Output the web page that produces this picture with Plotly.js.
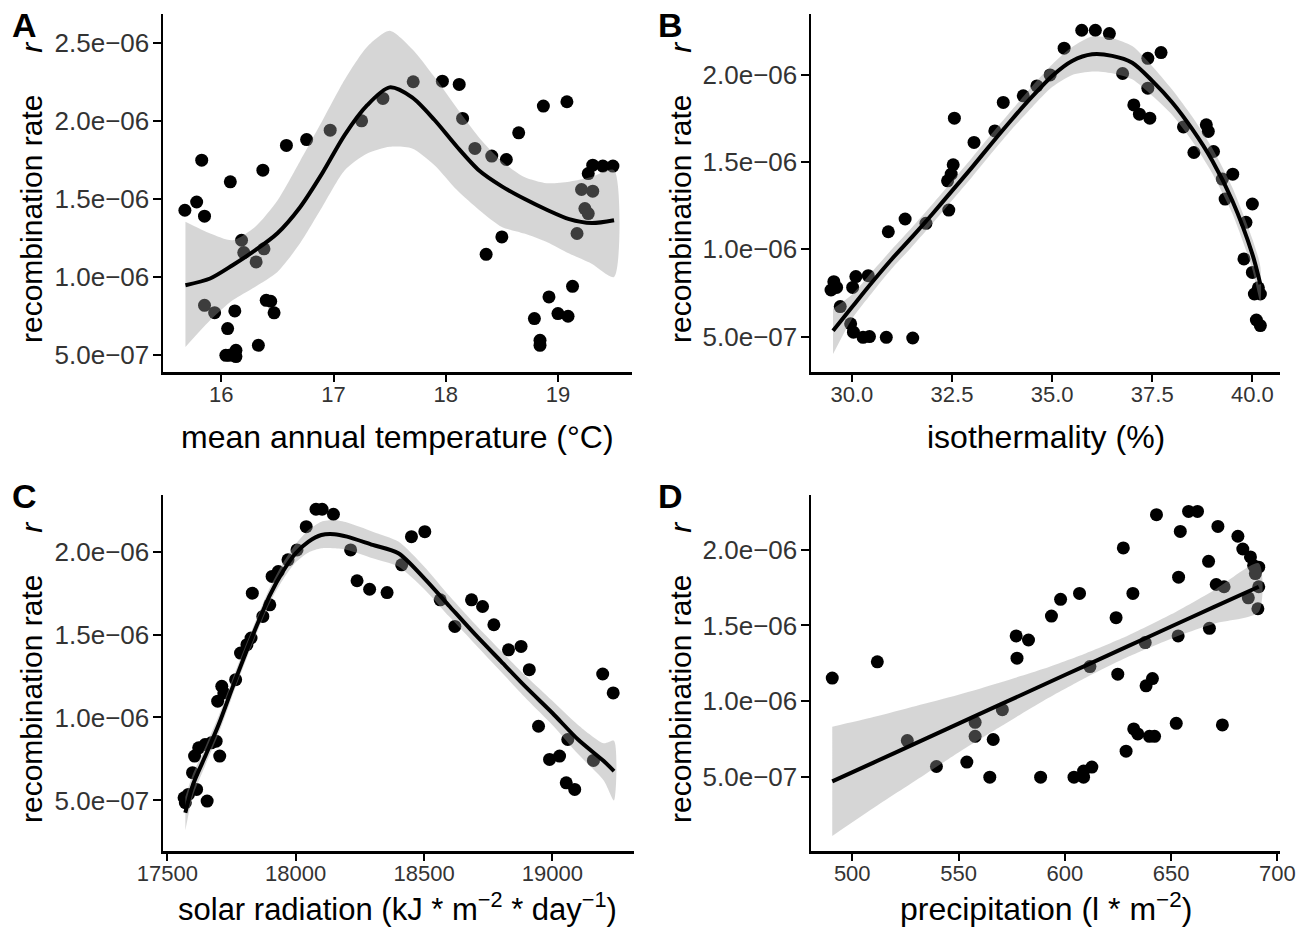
<!DOCTYPE html>
<html><head><meta charset="utf-8">
<script src="https://cdn.plot.ly/plotly-3.0.1.min.js"></script>
<style>html,body{margin:0;padding:0;background:#fff}#chart{width:1300px;height:935px}</style>
</head><body><div id="chart"></div>
<script>
// ---------- data (recombination rate in units of 1e-6) ----------
const tempX = [15.675,15.78,15.825,15.85,15.85,15.94,16.08,16.056,16.12,16.04,16.07,16.13,16.13,16.18,16.2,16.31,16.33,16.37,16.38,16.4,16.44,16.47,16.58,16.76,16.97,17.25,17.44,17.71,17.97,18.12,18.15,18.26,18.41,18.54,18.65,18.36,18.5,18.79,18.87,18.84,18.84,18.92,19.0,19.09,19.08,19.13,19.17,19.21,19.24,19.27,19.27,19.31,19.4,19.31,19.49];
const tempY = [1.427,1.48,1.748,1.389,0.818,0.771,1.609,0.669,0.782,0.498,0.498,0.53,0.49,1.235,1.156,1.096,0.562,1.684,1.18,0.85,0.844,0.77,1.842,1.88,1.94,2.0,2.143,2.25,2.254,2.233,2.015,1.823,1.774,1.752,1.923,1.145,1.256,0.733,2.094,0.594,0.562,0.872,0.765,0.748,2.122,0.94,1.278,1.56,1.438,1.406,1.662,1.716,1.71,1.549,1.71];
const tempFitX = [15.68,15.9,16.1,16.3,16.5,16.7,16.9,17.1,17.3,17.5,17.7,17.9,18.1,18.3,18.5,18.7,18.9,19.1,19.3,19.5];
const tempFit  = [0.947,0.99,1.075,1.17,1.28,1.445,1.665,1.91,2.10,2.214,2.15,2.005,1.834,1.68,1.58,1.50,1.43,1.37,1.345,1.363];
const tempUp   = [1.353,1.278,1.235,1.32,1.49,1.74,2.0,2.265,2.475,2.577,2.46,2.28,2.08,1.89,1.74,1.64,1.60,1.61,1.64,1.684];
const tempLo   = [0.551,0.722,0.85,0.936,1.032,1.214,1.45,1.684,1.79,1.833,1.823,1.716,1.556,1.427,1.32,1.278,1.224,1.15,1.085,1.0];

const isoX = [29.48,29.55,29.62,29.71,29.97,30.02,30.04,30.1,30.28,30.44,30.41,30.86,30.91,31.33,31.52,31.85,32.42,32.39,32.48,32.53,32.56,33.05,33.57,33.78,34.28,34.62,34.95,35.3,35.74,36.08,36.43,36.76,37.04,37.18,37.44,37.39,37.39,37.72,38.28,38.54,38.85,38.9,39.03,39.25,39.51,39.32,39.84,40.0,39.79,40.0,40.05,40.2,40.1,40.2,40.15];
const isoY = [0.767,0.815,0.782,0.672,0.573,0.782,0.525,0.844,0.496,0.5,0.849,0.496,1.101,1.174,0.492,1.149,1.225,1.393,1.431,1.485,1.752,1.613,1.679,1.842,1.88,1.937,2.0,2.153,2.256,2.256,2.237,2.008,1.828,1.775,1.752,1.924,2.095,2.128,1.702,1.555,1.714,1.676,1.561,1.403,1.431,1.288,1.155,1.26,0.945,0.868,0.744,0.744,0.595,0.563,0.78];
const isoFitX = [29.53,30,30.5,31,31.5,32,32.5,33,33.5,34,34.5,35,35.5,36,36.5,37,37.5,38,38.5,39,39.5,40,40.2];
const isoFit  = [0.534,0.668,0.81,0.945,1.07,1.2,1.335,1.47,1.61,1.746,1.875,1.994,2.08,2.118,2.109,2.07,1.966,1.842,1.689,1.508,1.279,0.973,0.8];
const isoUp   = [0.66,0.74,0.87,1.0,1.125,1.255,1.39,1.525,1.665,1.80,1.935,2.06,2.16,2.22,2.21,2.165,2.05,1.915,1.76,1.58,1.355,1.06,0.90];
const isoLo   = [0.40,0.60,0.75,0.89,1.015,1.145,1.28,1.415,1.555,1.69,1.815,1.93,2.00,2.02,2.01,1.975,1.88,1.77,1.62,1.435,1.205,0.885,0.70];

const solX = [17565,17570,17582,17598,17606,17614,17622,17647,17655,17671,17690,17704,17696,17712,17720,17766,17785,17810,17826,17831,17872,17899,17908,17932,17970,18005,18041,18079,18103,18147,18214,18239,18288,18356,18413,18451,18503,18563,18620,18685,18728,18772,18829,18878,18910,18946,18989,19028,19060,19054,19087,19160,19196,19237];
const solY = [0.516,0.486,0.536,0.667,0.767,0.566,0.817,0.837,0.496,0.847,0.857,0.767,1.098,1.188,1.148,1.228,1.388,1.439,1.479,1.749,1.609,1.679,1.85,1.88,1.95,2.01,2.15,2.255,2.255,2.225,2.01,1.824,1.773,1.753,1.92,2.09,2.12,1.709,1.549,1.709,1.669,1.559,1.408,1.428,1.288,0.947,0.747,0.767,0.867,0.606,0.566,0.741,1.262,1.148];
const solFitX = [17570,17600,17650,17700,17750,17800,17850,17900,17950,18000,18050,18100,18150,18200,18300,18400,18500,18600,18700,18800,18900,19000,19100,19200,19240];
const solFit  = [0.426,0.596,0.775,0.957,1.165,1.368,1.56,1.739,1.88,1.99,2.06,2.1,2.105,2.09,2.04,1.99,1.84,1.669,1.499,1.338,1.178,1.027,0.867,0.737,0.677];
const solUp   = [0.52,0.66,0.83,1.01,1.215,1.415,1.605,1.785,1.93,2.045,2.13,2.18,2.19,2.175,2.12,2.06,1.91,1.73,1.56,1.40,1.245,1.10,0.955,0.845,0.86];
const solLo   = [0.32,0.53,0.72,0.905,1.115,1.32,1.515,1.695,1.83,1.935,1.995,2.02,2.02,2.01,1.96,1.91,1.775,1.605,1.44,1.275,1.11,0.955,0.78,0.62,0.50];

const precX = [490.6,511.8,525.9,539.6,553.9,557.8,557.8,564.7,566.3,570.6,577.1,577.5,582.9,588.6,593.7,598,604.3,608.8,606.9,608.8,612.7,611.8,624.1,624.9,627.5,628.8,632,632.4,634.3,637.8,638.2,641.2,639.8,642.2,643.1,652.4,653.3,653.5,654.3,658.2,662.4,667.6,668,671.2,672,674.1,674.9,681.4,683.7,686.3,687.3,688.8,689.6,691.2,691.2,690.8];
const precY = [1.153,1.26,0.741,0.57,0.599,0.861,0.769,0.5,0.748,0.945,1.431,1.284,1.404,0.5,1.562,1.672,0.5,0.5,1.711,0.54,0.566,1.229,1.551,1.179,2.011,0.671,1.711,0.818,0.785,1.387,1.102,1.15,0.769,0.769,2.23,0.855,1.431,1.818,2.12,2.252,2.252,1.923,1.481,1.77,2.153,0.844,1.755,2.088,2.004,1.682,1.952,1.895,1.842,1.884,1.755,1.61];
const precFitX = [490.6,510,530,550,570,590,610,630,650,670,691.2];
const precFit  = [0.472,0.596,0.724,0.853,0.981,1.109,1.237,1.365,1.493,1.621,1.755];
const precUp   = [0.832,0.896,0.969,1.043,1.126,1.214,1.317,1.435,1.573,1.731,1.91];
const precLo   = [0.112,0.296,0.479,0.663,0.836,1.004,1.157,1.295,1.413,1.511,1.59];

const tempTicks = [16,17,18,19];
const isoTicks = [30,32.5,35,37.5,40];
const isoTickText = ['30.0','32.5','35.0','37.5','40.0'];
const solTicks = [17500,18000,18500,19000];
const precTicks = [500,550,600,650,700];
const rateTicksA = [5e-7,1e-6,1.5e-6,2e-6,2.5e-6];
const rateTextA = ['5.0e\u221207','1.0e\u221206','1.5e\u221206','2.0e\u221206','2.5e\u221206'];
const rateTicks = [5e-7,1e-6,1.5e-6,2e-6];
const rateText = ['5.0e\u221207','1.0e\u221206','1.5e\u221206','2.0e\u221206'];

// ---------- drawing ----------
const U = 1e-6;
const sc = a => a.map(v => v * U);
const FONT = 'Liberation Sans, Arial, Helvetica, sans-serif';

function panel(n, px, py, fx, fy, up, lo) {
  const xa = n === 1 ? 'x' : 'x' + n, ya = n === 1 ? 'y' : 'y' + n;
  return [
    {type:'scatter', mode:'markers', x:px, y:sc(py), xaxis:xa, yaxis:ya,
     marker:{color:'#000', size:13, line:{width:0}}, showlegend:false},
    {type:'scatter', mode:'lines', x:fx.concat(fx.slice().reverse()),
     y:sc(up.concat(lo.slice().reverse())), xaxis:xa, yaxis:ya,
     fill:'toself', fillcolor:'rgba(153,153,153,0.4)', line:{width:0, shape:'spline', smoothing:0.7},
     hoverinfo:'skip', showlegend:false},
    {type:'scatter', mode:'lines', x:fx, y:sc(fy), xaxis:xa, yaxis:ya,
     line:{color:'#000', width:4, shape:'spline', smoothing:0.8}, showlegend:false}
  ];
}

const data = [].concat(
  panel(1, tempX, tempY, tempFitX, tempFit, tempUp, tempLo),
  panel(2, isoX, isoY, isoFitX, isoFit, isoUp, isoLo),
  panel(3, solX, solY, solFitX, solFit, solUp, solLo),
  panel(4, precX, precY, precFitX, precFit, precUp, precLo)
);

const W = 1300, H = 935;
const dx = (a, b) => [a / W, b / W];
const dy = (top, bot) => [1 - bot / H, 1 - top / H];

function xax(domain, range, anchor, tickvals, ticktext) {
  const o = {domain, range, anchor, showline:true, linecolor:'#000', linewidth:2.5,
    ticks:'outside', ticklen:7, tickwidth:2, tickcolor:'#000', showgrid:false, zeroline:false,
    tickmode:'array', tickvals, tickfont:{family:FONT, size:22, color:'#333'}, ticklabelstandoff:-6};
  if (ticktext) o.ticktext = ticktext;
  return o;
}
function yax(domain, range, anchor, tickvals, ticktext) {
  return {domain, range, anchor, showline:true, linecolor:'#000', linewidth:2.5,
    ticks:'outside', ticklen:8, tickwidth:2, tickcolor:'#000', showgrid:false, zeroline:false,
    tickmode:'array', tickvals, ticktext, tickfont:{family:FONT, size:26, color:'#333'}, ticklabelstandoff:-2};
}

const yTitle = 'recombination rate\u00a0\u00a0\u00a0\u00a0\u00a0<i>r</i>';
function ann(text, xpx, ypx, size, extra) {
  return Object.assign({text, xref:'paper', yref:'paper', x:xpx / W, y:1 - ypx / H,
    showarrow:false, font:{family:FONT, size, color:'#000'}, xanchor:'center', yanchor:'middle'}, extra || {});
}

const layout = {
  width:W, height:H, margin:{l:0, r:0, t:0, b:0}, paper_bgcolor:'#fff', plot_bgcolor:'#fff',
  showlegend:false, font:{family:FONT},
  xaxis:  xax(dx(163, 632),  [15.48, 19.66], 'y',  tempTicks),
  yaxis:  yax(dy(14, 372),   [0.391e-6, 2.684e-6], 'x', rateTicksA, rateTextA),
  xaxis2: xax(dx(811, 1280), [28.98, 40.69], 'y2', isoTicks, isoTickText),
  yaxis2: yax(dy(14, 372),   [0.297e-6, 2.349e-6], 'x2', rateTicks, rateText),
  xaxis3: xax(dx(163, 634),  [17483, 19318], 'y3', solTicks, solTicks.map(String)),
  yaxis3: yax(dy(495, 851),  [0.195e-6, 2.341e-6], 'x3', rateTicks, rateText),
  xaxis4: xax(dx(811, 1280), [480.6, 701.2], 'y4', precTicks),
  yaxis4: yax(dy(495, 851),  [0.013e-6, 2.36e-6], 'x4', rateTicks, rateText),
  annotations: [
    ann('<b>A</b>', 10, 4, 34, {xanchor:'left', yanchor:'top'}),
    ann('<b>B</b>', 656, 4, 34, {xanchor:'left', yanchor:'top'}),
    ann('<b>C</b>', 10, 475, 34, {xanchor:'left', yanchor:'top'}),
    ann('<b>D</b>', 656, 475, 34, {xanchor:'left', yanchor:'top'}),
    ann(yTitle, 31, 193, 30, {textangle:-90}),
    ann(yTitle, 680, 193, 30, {textangle:-90}),
    ann(yTitle, 31, 673, 30, {textangle:-90}),
    ann(yTitle, 680, 673, 30, {textangle:-90}),
    ann('mean annual temperature (°C)', 397, 437, 32),
    ann('isothermality (%)', 1046, 437, 32),
    ann('solar radiation (kJ * m<sup>\u22122</sup> * day<sup>\u22121</sup>)', 397, 907, 31),
    ann('precipitation (l * m<sup>\u22122</sup>)', 1046, 907, 32)
  ]
};

Plotly.newPlot('chart', data, layout, {staticPlot:true, displayModeBar:false});
</script>
</body></html>
